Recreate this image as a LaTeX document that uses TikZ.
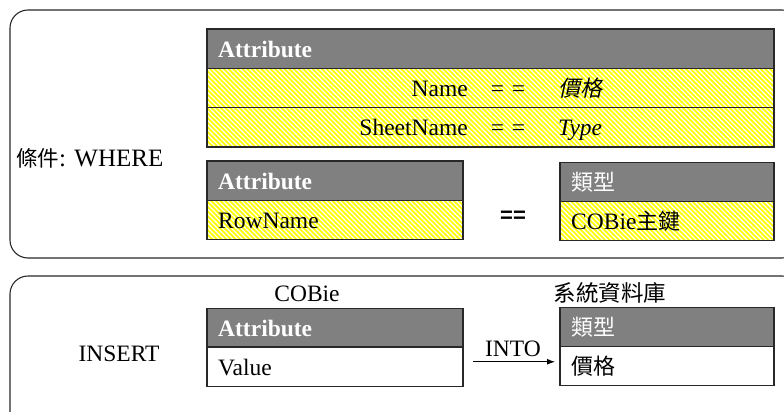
\documentclass[tikz,border=0pt]{standalone}
\usepackage{fontspec}
\setmainfont{Liberation Serif}
\newfontfamily\cjk{Noto Sans CJK TC}
\newfontfamily\cjkit[FakeSlant=0.22]{Noto Sans CJK TC}
\newfontfamily\heavysans{Liberation Sans}
\usetikzlibrary{patterns.meta,arrows.meta}

\definecolor{hdrgray}{RGB}{128,128,128}
\definecolor{hatchyellow}{RGB}{255,255,0}
\definecolor{edge}{RGB}{40,40,40}

\tikzset{
  frame/.style={draw=edge, line width=1.1pt, rounded corners=18pt},
  cell/.style={draw=edge, line width=1.1pt, anchor=north west, inner sep=0pt, outer sep=0pt},
  hdrcell/.style={cell, fill=hdrgray},
  whitecell/.style={cell, fill=white},
  hatchcell/.style={cell, preaction={fill=hatchyellow},
    pattern={Lines[angle=-45,distance=3.3pt,line width=1.25pt]}, pattern color=white},
  txt/.style={inner sep=0pt, font=\fontsize{23.5}{28}\selectfont},
  hdrtxt/.style={txt, text=white, font=\fontsize{23.5}{28}\selectfont\bfseries, anchor=base west},
  link/.style={draw=black, line width=1pt, -{Latex[length=8pt,width=6pt]}}
}

\begin{document}
\begin{tikzpicture}[x=1pt,y=-1pt]
\useasboundingbox (0,0) rectangle (784,412);
\clip (0,0) rectangle (784,412);

% two frames
\draw[frame] (10,10) rectangle (800,258);
\draw[frame] (10,276) rectangle (800,430);

% ---- WHERE part ----
\node[txt, anchor=base west, font=\fontsize{25}{30}\selectfont] (where) at (16,166) {{\cjk\fontsize{21.5}{26}\selectfont 條件}: WHERE};

% attribute table with Name / SheetName
\node[hdrcell, minimum width=567pt, minimum height=39.5pt] (t1h) at (207,29) {};
\node[hatchcell, minimum width=567pt, minimum height=39pt] (t1a) at (207,68.5) {};
\node[hatchcell, minimum width=567pt, minimum height=39.5pt] (t1b) at (207,107.5) {};
\node[hdrtxt] (t1hl) at (218,57) {Attribute};
\node[txt, anchor=base east] (n1) at (468,96) {Name};
\node[txt, anchor=base] (e1) at (508,96) {=\,\,=};
\node[txt, anchor=base west] (v1) at (558,96) {\cjkit\fontsize{22}{26}\selectfont 價格};
\node[txt, anchor=base east] (n2) at (468,135) {SheetName};
\node[txt, anchor=base] (e2) at (508,135) {=\,\,=};
\node[txt, anchor=base west] (v2) at (558,135) {\itshape Type};

% RowName table
\node[hdrcell, minimum width=256pt, minimum height=39.5pt] (t2h) at (207,161) {};
\node[hatchcell, minimum width=256pt, minimum height=39pt] (t2r) at (207,200.5) {};
\node[hdrtxt] (t2hl) at (218,189) {Attribute};
\node[txt, anchor=base west] (t2rl) at (218,228) {RowName};

% equality sign
\node[inner sep=0pt, font=\heavysans\bfseries\fontsize{22}{26}\selectfont] (eq) at (513,217) {==};

% type table
\node[hdrcell, minimum width=214pt, minimum height=39pt] (t3h) at (560,162.5) {};
\node[hatchcell, minimum width=214pt, minimum height=39pt] (t3r) at (560,201.5) {};
\node[hdrtxt, font=\cjk\fontsize{22}{26}\selectfont] (t3hl) at (571,190) {類型};
\node[txt, anchor=base west] (t3rl) at (571,229) {COBie{\cjk\fontsize{22}{26}\selectfont 主鍵}};

% ---- INSERT part ----
\node[txt, anchor=base] (insert) at (119,361) {INSERT};

\node[txt, anchor=base] (cobie) at (307,301) {COBie};
\node[hdrcell, minimum width=256pt, minimum height=38.5pt] (t4h) at (207,308.5) {};
\node[whitecell, minimum width=256pt, minimum height=39.5pt] (t4r) at (207,347) {};
\node[hdrtxt] (t4hl) at (218,336) {Attribute};
\node[txt, anchor=base west] (t4rl) at (218,375) {Value};

\node[txt, anchor=base, font=\cjk\fontsize{22.5}{27}\selectfont] (sysdb) at (610,301) {系統資料庫};
\node[hdrcell, minimum width=214pt, minimum height=39pt] (t5h) at (560,307.5) {};
\node[whitecell, minimum width=214pt, minimum height=39pt] (t5r) at (560,346.5) {};
\node[hdrtxt, font=\cjk\fontsize{22}{26}\selectfont] (t5hl) at (571,335) {類型};
\node[txt, anchor=base west, font=\cjk\fontsize{22}{26}\selectfont] (t5rl) at (571,374) {價格};

\draw[link, shorten <=10pt, shorten >=5pt] ([yshift=5pt]t4r.east) -- ([yshift=5pt]t4r.east -| t5r.west);
\node[txt, anchor=base] (into) at (513,356) {INTO};
\end{tikzpicture}
\end{document}
